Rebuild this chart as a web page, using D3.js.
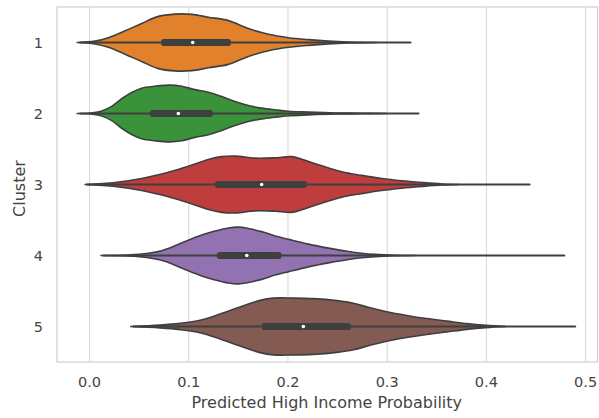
<!DOCTYPE html>
<html>
<head>
<meta charset="utf-8">
<script src="https://cdn.jsdelivr.net/npm/d3@7"></script>
<style>
  html, body { margin: 0; padding: 0; background: #ffffff; }
  svg { display: block; }
</style>
</head>
<body>
<svg id="chart" width="599" height="418"></svg>
<script>
// ---- data ----
const clusters = ["1", "2", "3", "4", "5"];
const colors = ["#e1812c", "#3a923a", "#c03d3e", "#9372b2", "#845b53"];
const xTicks = [0.0, 0.1, 0.2, 0.3, 0.4, 0.5];
const xLabel = "Predicted High Income Probability";
const yLabel = "Cluster";

// density profiles: [value, relative half-width]
const density1 = [[-0.012,0],[0.006,0.05],[0.0195,0.17],[0.0363,0.41],[0.053,0.67],[0.0699,0.92],[0.0867,1.0],[0.1035,0.99],[0.1203,0.89],[0.1405,0.77],[0.1606,0.49],[0.1808,0.29],[0.201,0.17],[0.2211,0.1],[0.2413,0.05],[0.2614,0.02],[0.29,0]];
const density2 = [[-0.012,0],[-0.0007,0.01],[0.0128,0.09],[0.0228,0.25],[0.0329,0.52],[0.043,0.74],[0.053,0.89],[0.0665,0.96],[0.0816,1.0],[0.0934,0.96],[0.1068,0.84],[0.1203,0.75],[0.1337,0.6],[0.1472,0.42],[0.1606,0.28],[0.174,0.19],[0.1875,0.13],[0.201,0.08],[0.2211,0.05],[0.2479,0.02],[0.2715,0.01],[0.3,0]];
const density3 = [[-0.004,0],[0.0262,0.07],[0.053,0.21],[0.0799,0.43],[0.1001,0.64],[0.1203,0.88],[0.1337,0.98],[0.1472,1.0],[0.1673,0.93],[0.1875,0.94],[0.2043,0.98],[0.2177,0.85],[0.2345,0.66],[0.2547,0.45],[0.2748,0.32],[0.295,0.21],[0.3152,0.13],[0.3353,0.07],[0.3555,0.02],[0.3723,0]];
const density4 = [[0.012,0],[0.0396,0.02],[0.0598,0.08],[0.0732,0.17],[0.0867,0.34],[0.1001,0.54],[0.1136,0.72],[0.127,0.86],[0.1405,0.97],[0.1505,1.0],[0.1606,0.95],[0.174,0.84],[0.1875,0.69],[0.201,0.57],[0.2211,0.4],[0.2413,0.26],[0.2614,0.14],[0.2748,0.08],[0.2883,0.04],[0.3084,0.01],[0.3286,0]];
const density5 = [[0.042,0],[0.0716,0.05],[0.0917,0.11],[0.1119,0.22],[0.1321,0.44],[0.1522,0.69],[0.1724,0.92],[0.1858,1.0],[0.206,1.0],[0.2261,0.98],[0.2496,0.91],[0.2665,0.82],[0.2833,0.66],[0.3,0.52],[0.3202,0.39],[0.3404,0.28],[0.3605,0.19],[0.3807,0.1],[0.4,0.04],[0.42,0]];
const densities = [density1, density2, density3, density4, density5];

const whiskerLo = [-0.009, -0.009, -0.002, 0.0144, 0.0447];
const whiskerHi = [0.324, 0.332, 0.444, 0.479, 0.49];
const q1 = [0.0726, 0.0615, 0.127, 0.129, 0.174];
const q3 = [0.143, 0.1247, 0.2194, 0.194, 0.264];
const medians = [0.1045, 0.090, 0.174, 0.159, 0.216];

// ---- layout ----
const svg = d3.select("#chart");
const mLeft = 57, mRight = 597.5, mTop = 7, mBottom = 362;

const x = d3.scaleLinear().domain([-0.0323, 0.5125]).range([mLeft, mRight]);
const y = d3.scaleBand().domain(clusters).range([mTop, mBottom]).padding(0);
const halfMax = y.bandwidth() * 0.4;
const gray = "#3f3f3f";
const textColor = "#444444";
const font = "DejaVu Sans, sans-serif";

// grid via x axis
const xAxis = svg.append("g")
  .attr("transform", `translate(0,${mBottom})`)
  .call(d3.axisBottom(x).tickValues(xTicks).tickFormat(d3.format(".1f"))
    .tickSizeInner(-(mBottom - mTop)).tickSizeOuter(0));
xAxis.select(".domain").remove();
xAxis.selectAll(".tick line").attr("stroke", "#d6d6d6").attr("stroke-width", 1);
xAxis.selectAll(".tick text")
  .attr("y", 25).attr("dy", 0)
  .attr("fill", textColor)
  .style("font-family", font).style("font-size", "14.5px");

// frame
svg.append("rect")
  .attr("x", mLeft).attr("y", mTop)
  .attr("width", mRight - mLeft).attr("height", mBottom - mTop)
  .attr("fill", "none").attr("stroke", "#d0d0d0").attr("stroke-width", 1.25);

// y axis
const yAxis = svg.append("g")
  .attr("transform", `translate(${mLeft},0)`)
  .call(d3.axisLeft(y).tickSize(0).tickPadding(14));
yAxis.select(".domain").remove();
yAxis.selectAll(".tick text")
  .attr("fill", textColor)
  .attr("dy", "0.35em")
  .style("font-family", font).style("font-size", "14.5px");

// violins
const g = svg.append("g");
clusters.forEach((c, i) => {
  const cy = y(c) + y.bandwidth() / 2;
  const area = d3.area()
    .x(d => x(d[0]))
    .y0(d => cy - d[1] * halfMax)
    .y1(d => cy + d[1] * halfMax)
    .curve(d3.curveCatmullRom);
  g.append("path")
    .datum(densities[i])
    .attr("d", area)
    .attr("fill", colors[i])
    .attr("stroke", gray)
    .attr("stroke-width", 1.6)
    .attr("stroke-linejoin", "round");
  // whisker
  g.append("line")
    .attr("x1", x(whiskerLo[i])).attr("x2", x(whiskerHi[i]))
    .attr("y1", cy).attr("y2", cy)
    .attr("stroke", gray).attr("stroke-width", 2.2)
    .attr("stroke-linecap", "round");
  // box
  g.append("rect")
    .attr("x", x(q1[i])).attr("width", x(q3[i]) - x(q1[i]))
    .attr("y", cy - 3.6).attr("height", 7.2)
    .attr("rx", 2.5)
    .attr("fill", gray);
  // median
  g.append("circle")
    .attr("cx", x(medians[i])).attr("cy", cy).attr("r", 1.8)
    .attr("fill", "#ffffff");
});

// axis labels
svg.append("text")
  .attr("x", (mLeft + mRight) / 2 - 0.5).attr("y", 408)
  .attr("text-anchor", "middle")
  .attr("fill", textColor)
  .style("font-family", font).style("font-size", "16px")
  .text(xLabel);

svg.append("text")
  .attr("transform", `translate(25,${(mTop + mBottom) / 2 + 4}) rotate(-90)`)
  .attr("text-anchor", "middle")
  .attr("fill", textColor)
  .style("font-family", font).style("font-size", "16px")
  .text(yLabel);
</script>
</body>
</html>
